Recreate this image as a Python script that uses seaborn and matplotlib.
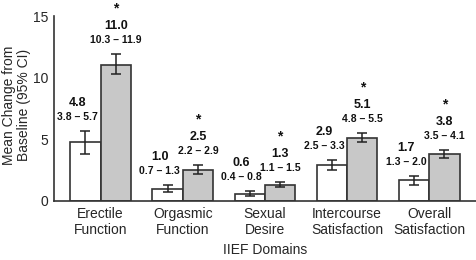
import matplotlib
matplotlib.use("Agg")
import matplotlib.pyplot as plt
import numpy as np
import pandas as pd
import seaborn as sns

domains = ["Erectile\nFunction", "Orgasmic\nFunction", "Sexual\nDesire",
           "Intercourse\nSatisfaction", "Overall\nSatisfaction"]
groups = ["Placebo", "Treatment"]
placebo_mean = [4.8, 1.0, 0.6, 2.9, 1.7]
placebo_lo = [3.8, 0.7, 0.4, 2.5, 1.3]
placebo_hi = [5.7, 1.3, 0.8, 3.3, 2.0]
treat_mean = [11.0, 2.5, 1.3, 5.1, 3.8]
treat_lo = [10.3, 2.2, 1.1, 4.8, 3.5]
treat_hi = [11.9, 2.9, 1.5, 5.5, 4.1]
signif = ["*", "*", "*", "*", "*"]

sns.set_style("white")
plt.rcParams["font.family"] = ["Liberation Sans", "DejaVu Sans"]

df = pd.DataFrame({
    "domain": domains * 2,
    "group": [groups[0]] * 5 + [groups[1]] * 5,
    "mean": placebo_mean + treat_mean,
    "lo": placebo_lo + treat_lo,
    "hi": placebo_hi + treat_hi,
})

fig = plt.figure(figsize=(4.76, 2.6), dpi=100)
ax = fig.add_axes([0.113, 0.227, 0.887, 0.711])

sns.barplot(data=df, x="domain", y="mean", hue="group", order=domains,
            hue_order=groups, palette=["white", "#c8c8c8"], width=0.74,
            edgecolor="#333333", linewidth=1.2, errorbar=None, legend=False,
            saturation=1, ax=ax)

bars = ax.patches[:10]
centers = [p.get_x() + p.get_width() / 2 for p in bars]
df["xc"] = centers

ax.errorbar(df["xc"], df["mean"],
            yerr=[df["mean"] - df["lo"], df["hi"] - df["mean"]],
            fmt="none", ecolor="#222222", elinewidth=1.1, capsize=3.6, capthick=1.1)

for i, row in df.iterrows():
    shift = -8 if row["group"] == groups[0] else 0
    ax.annotate(f"{row['lo']:.1f} – {row['hi']:.1f}", (row["xc"], row["hi"]),
                xytext=(shift, 14), textcoords="offset pixels", ha="center", va="center",
                fontsize=7.5, fontweight="bold", color="#111111")
    ax.annotate(f"{row['mean']:.1f}", (row["xc"], row["hi"]),
                xytext=(shift, 28), textcoords="offset pixels", ha="center", va="center",
                fontsize=9, fontweight="bold", color="#111111")
    if row["group"] == groups[1]:
        ax.annotate(signif[i - 5], (row["xc"], row["hi"]),
                    xytext=(0, 46), textcoords="offset pixels", ha="center", va="center",
                    fontsize=10, fontweight="bold", color="#111111")

ax.set_xlim(-0.57, 4.57)
ax.set_ylim(0, 15)
ax.set_yticks([0, 5, 10, 15])
ax.set_xlabel("IIEF Domains", fontsize=10)
ax.set_ylabel("Mean Change from\nBaseline (95% CI)", fontsize=10, linespacing=1.05)
ax.xaxis.set_label_coords(0.5, -0.225)
ax.yaxis.set_label_coords(-0.054, 0.52)
ax.tick_params(axis="both", labelsize=10, length=0, pad=4)
sns.despine(ax=ax)
for s in ["left", "bottom"]:
    ax.spines[s].set_color("#333333")
    ax.spines[s].set_linewidth(1.2)

fig.savefig("out.png", dpi=100)
